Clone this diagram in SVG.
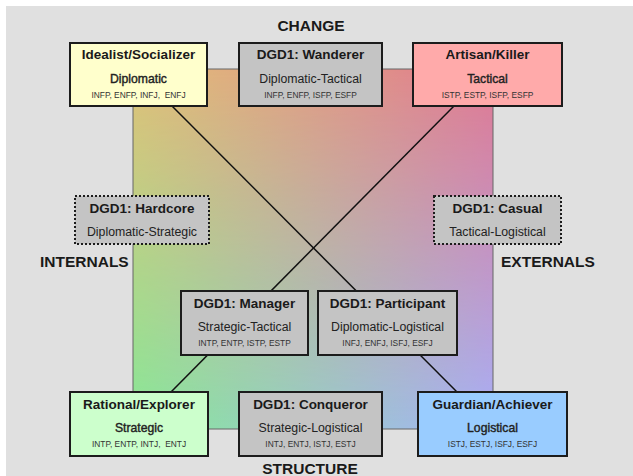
<svg xmlns="http://www.w3.org/2000/svg" width="633" height="476" viewBox="0 0 633 476">
<style>
.box{stroke:#1c1c1c;stroke-width:2}
.gray{fill:#c4c4c4}
.dot{fill:#c4c4c4;stroke:#1c1c1c;stroke-width:2;stroke-dasharray:2 2}
.t{font-family:"Liberation Sans",Arial,sans-serif;font-size:13.5px;font-weight:bold;fill:#1a1a1a;text-anchor:middle}
.s{font-family:"Liberation Sans",Arial,sans-serif;font-size:12.3px;fill:#222;text-anchor:middle}
.sb{font-family:"Liberation Sans",Arial,sans-serif;font-size:12.2px;fill:#222;stroke:#222;stroke-width:0.4;text-anchor:middle}
.m{font-family:"Liberation Sans",Arial,sans-serif;font-size:8.4px;fill:#333;text-anchor:middle;white-space:pre}
.lab{font-family:"Liberation Sans",Arial,sans-serif;font-size:15.5px;font-weight:bold;fill:#1a1a1a}
.conn{stroke:#111;stroke-width:1.5;fill:none}
</style>
<defs>
<linearGradient id="gTop" x1="0" y1="0" x2="1" y2="0">
<stop offset="0" stop-color="#e0c078"/>
<stop offset="1" stop-color="#e07890"/>
</linearGradient>
<linearGradient id="gBot" x1="0" y1="0" x2="1" y2="0">
<stop offset="0" stop-color="#88e898"/>
<stop offset="1" stop-color="#a8b0f8"/>
</linearGradient>
<linearGradient id="gMask" x1="0" y1="0" x2="0" y2="1">
<stop offset="0" stop-color="#fff"/>
<stop offset="1" stop-color="#000"/>
</linearGradient>
<mask id="mk" maskUnits="userSpaceOnUse" x="133" y="69" width="360" height="360">
<rect x="133" y="69" width="360" height="360" fill="url(#gMask)"/>
</mask>
</defs>
<rect x="6" y="6" width="627" height="470" fill="#e0e0e0"/>
<g id="square">
<rect x="133" y="69" width="360" height="360" fill="url(#gBot)"/>
<rect x="133" y="69" width="360" height="360" fill="url(#gTop)" mask="url(#mk)"/>
<rect x="133" y="69" width="360" height="360" fill="none" stroke="#666" stroke-width="1"/>
</g>
<text class="lab" x="311" y="31" text-anchor="middle">CHANGE</text>
<text class="lab" x="310" y="474" text-anchor="middle">STRUCTURE</text>
<text class="lab" x="40" y="267">INTERNALS</text>
<text class="lab" x="501" y="267">EXTERNALS</text>
<g id="connectors">
<line class="conn" x1="172" y1="106" x2="457" y2="392"/>
<line class="conn" x1="454" y1="106" x2="171" y2="392"/>
</g>
<g id="idealist">
<rect class="box" x="70" y="43" width="137" height="63" fill="#ffffcc"/>
<text class="t" x="138.5" y="59">Idealist/Socializer</text>
<text class="sb" x="138.5" y="83">Diplomatic</text>
<text class="m" x="138.5" y="98" xml:space="preserve">INFP, ENFP, INFJ,  ENFJ</text>
</g>
<g id="wanderer">
<rect class="box gray" x="239" y="43" width="143" height="63"/>
<text class="t" x="310.5" y="59">DGD1: Wanderer</text>
<text class="s" x="310.5" y="83">Diplomatic-Tactical</text>
<text class="m" x="310.5" y="98">INFP, ENFP, ISFP, ESFP</text>
</g>
<g id="artisan">
<rect class="box" x="413" y="43" width="149" height="63" fill="#ffaaaa"/>
<text class="t" x="487.5" y="59">Artisan/Killer</text>
<text class="sb" x="487.5" y="83">Tactical</text>
<text class="m" x="487.5" y="98">ISTP, ESTP, ISFP, ESFP</text>
</g>
<g id="hardcore">
<rect class="dot" x="75" y="196" width="134" height="48"/>
<text class="t" x="142" y="213">DGD1: Hardcore</text>
<text class="s" x="142" y="236">Diplomatic-Strategic</text>
</g>
<g id="casual">
<rect class="dot" x="434" y="196" width="127" height="48"/>
<text class="t" x="497.5" y="213">DGD1: Casual</text>
<text class="s" x="497.5" y="236">Tactical-Logistical</text>
</g>
<g id="manager">
<rect class="box gray" x="181" y="291" width="127" height="64"/>
<text class="t" x="244.5" y="308">DGD1: Manager</text>
<text class="s" x="244.5" y="331">Strategic-Tactical</text>
<text class="m" x="244.5" y="346">INTP, ENTP, ISTP, ESTP</text>
</g>
<g id="participant">
<rect class="box gray" x="318" y="291" width="139" height="64"/>
<text class="t" x="387.5" y="308">DGD1: Participant</text>
<text class="s" x="387.5" y="331">Diplomatic-Logistical</text>
<text class="m" x="387.5" y="346">INFJ, ENFJ, ISFJ, ESFJ</text>
</g>
<g id="rational">
<rect class="box" x="70" y="392" width="138" height="64" fill="#ccffcc"/>
<text class="t" x="139" y="409">Rational/Explorer</text>
<text class="sb" x="139" y="432">Strategic</text>
<text class="m" x="139" y="447" xml:space="preserve">INTP, ENTP, INTJ,  ENTJ</text>
</g>
<g id="conqueror">
<rect class="box gray" x="239" y="392" width="143" height="64"/>
<text class="t" x="310.5" y="409">DGD1: Conqueror</text>
<text class="s" x="310.5" y="432">Strategic-Logistical</text>
<text class="m" x="310.5" y="447">INTJ, ENTJ, ISTJ, ESTJ</text>
</g>
<g id="guardian">
<rect class="box" x="418" y="392" width="149" height="64" fill="#99ccff"/>
<text class="t" x="492.5" y="409">Guardian/Achiever</text>
<text class="sb" x="492.5" y="432">Logistical</text>
<text class="m" x="492.5" y="447">ISTJ, ESTJ, ISFJ, ESFJ</text>
</g>
</svg>
